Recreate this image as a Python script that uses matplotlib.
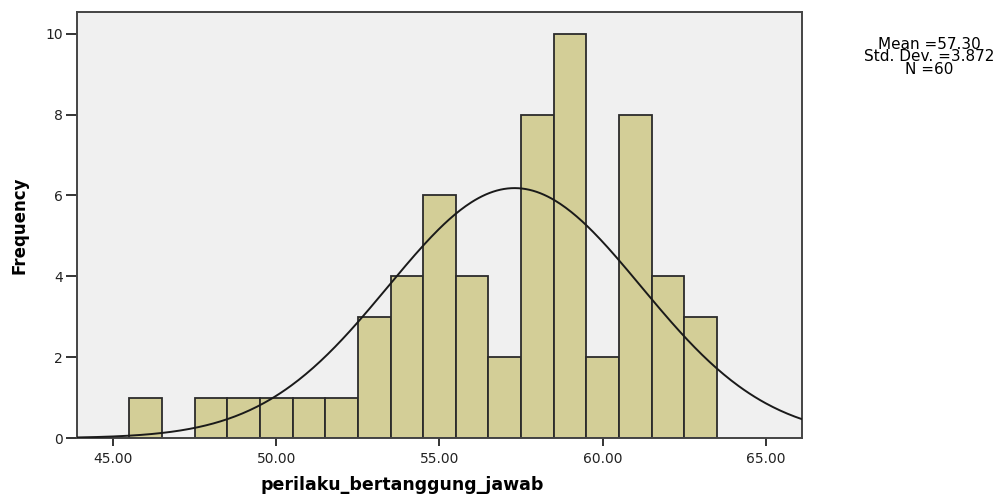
import numpy as np
import matplotlib.pyplot as plt

# ==============================
# Data
# ==============================
bin_centers = [46, 48, 49, 50, 51, 52, 53, 54, 55, 56, 57, 58, 59, 60, 61, 62, 63]
counts = [1, 1, 1, 1, 1, 1, 3, 4, 6, 4, 2, 8, 10, 2, 8, 4, 3]
mean_val = 57.30
std_val = 3.872
n_val = 60
x_ticks = [45, 50, 55, 60, 65]
y_ticks = [0, 2, 4, 6, 8, 10]

# ==============================
# Figure
# ==============================
fig = plt.figure(figsize=(10.01, 4.95), dpi=100)
ax = fig.add_axes([0.0769, 0.115, 0.7243, 0.861])
ax.set_facecolor("#F0F0F0")

ax.bar(bin_centers, counts, width=1.0, color="#D3CE97",
       edgecolor="#2b2b2b", linewidth=1.3, zorder=2)

# normal curve scaled to counts (bin width 1)
xs = np.linspace(43.9, 66.1, 400)
ys = n_val * np.exp(-0.5 * ((xs - mean_val) / std_val) ** 2) / (std_val * np.sqrt(2 * np.pi))
ax.plot(xs, ys, color="#1a1a1a", linewidth=1.4, zorder=3)

ax.set_xlim(43.9, 66.1)
ax.set_ylim(0, 10.54)
ax.set_xticks(x_ticks)
ax.set_xticklabels([f"{t:.2f}" for t in x_ticks])
ax.set_yticks(y_ticks)

for s in ax.spines.values():
    s.set_color("#444444")
    s.set_linewidth(1.4)

ax.tick_params(axis="y", direction="out", length=8, width=1.4, color="#333333",
               labelsize=10, pad=2)
ax.tick_params(axis="x", direction="out", length=6, width=1.4, color="#333333",
               labelsize=10, pad=4)
for lab in ax.get_xticklabels() + ax.get_yticklabels():
    lab.set_fontfamily("DejaVu Sans")
    lab.set_color("#222222")

# x label sits low, partly clipped at the bottom like the original export
fig.text(0.402, 0.02, "perilaku_bertanggung_jawab", ha="center", va="center",
         fontsize=12.5, fontweight="bold", family="DejaVu Sans")
ax.set_ylabel("Frequency", fontsize=12, fontweight="bold",
              family="Liberation Sans Narrow", labelpad=12)

stats = f"Mean ={mean_val:.2f}\nStd. Dev. =3.872\nN ={n_val}"
fig.text(0.928, 0.925, stats, ha="center", va="top", fontsize=11,
         family="DejaVu Sans", linespacing=0.78)

plt.savefig("out.png", dpi=100)
